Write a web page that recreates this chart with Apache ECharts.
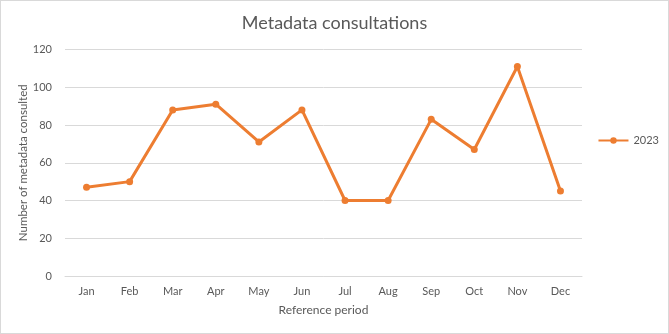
<!DOCTYPE html>
<html><head><meta charset="utf-8">
<script src="https://cdn.jsdelivr.net/npm/echarts@6/dist/echarts.min.js"></script>
<style>html,body{margin:0;padding:0;background:#fff;}#c{width:667px;height:332px;border:1px solid #d9d9d9;}</style>
</head><body><div id="c"></div>
<script>
const categories = ['Jan','Feb','Mar','Apr','May','Jun','Jul','Aug','Sep','Oct','Nov','Dec'];
const values2023 = [47,50,88,91,71,88,40,40,83,67,111,45];
const yTicks = [0,20,40,60,80,100,120];
const font = 'Lato, "Liberation Sans", sans-serif';
const chart = echarts.init(document.getElementById('c'));
chart.setOption({
  animation:false,
  title:{text:'Metadata consultations',left:'center',top:8,textStyle:{fontFamily:font,fontSize:18,fontWeight:'normal',color:'#595959'}},
  legend:{right:4,top:129,orient:'vertical',itemWidth:30,itemHeight:8,textStyle:{fontFamily:font,fontSize:11,color:'#595959'},data:['2023'],itemGap:4},
  grid:{left:64,right:86,top:48.5,bottom:57},
  xAxis:{type:'category',data:categories,boundaryGap:true,
    name:'Reference period',nameLocation:'middle',nameGap:28,nameTextStyle:{fontFamily:font,fontSize:12,color:'#595959'},
    axisLine:{show:true,lineStyle:{color:'#d9d9d9'}},axisTick:{show:false},
    axisLabel:{fontFamily:font,fontSize:11,color:'#595959',margin:10}},
  yAxis:{type:'value',min:yTicks[0],max:yTicks[yTicks.length-1],interval:20,
    name:'Number of metadata consulted',nameLocation:'middle',nameGap:36,nameMoveOverlap:false,nameTextStyle:{fontFamily:font,fontSize:11.5,color:'#595959'},
    axisLine:{show:false},axisTick:{show:false},
    splitLine:{lineStyle:{color:'#d9d9d9'}},
    axisLabel:{fontFamily:font,fontSize:11,color:'#595959',margin:13}},
  series:[{name:'2023',type:'line',data:values2023,symbol:'circle',symbolSize:7,
    itemStyle:{color:'#ED7D31'},lineStyle:{color:'#ED7D31',width:3}}]
});
</script></body></html>
